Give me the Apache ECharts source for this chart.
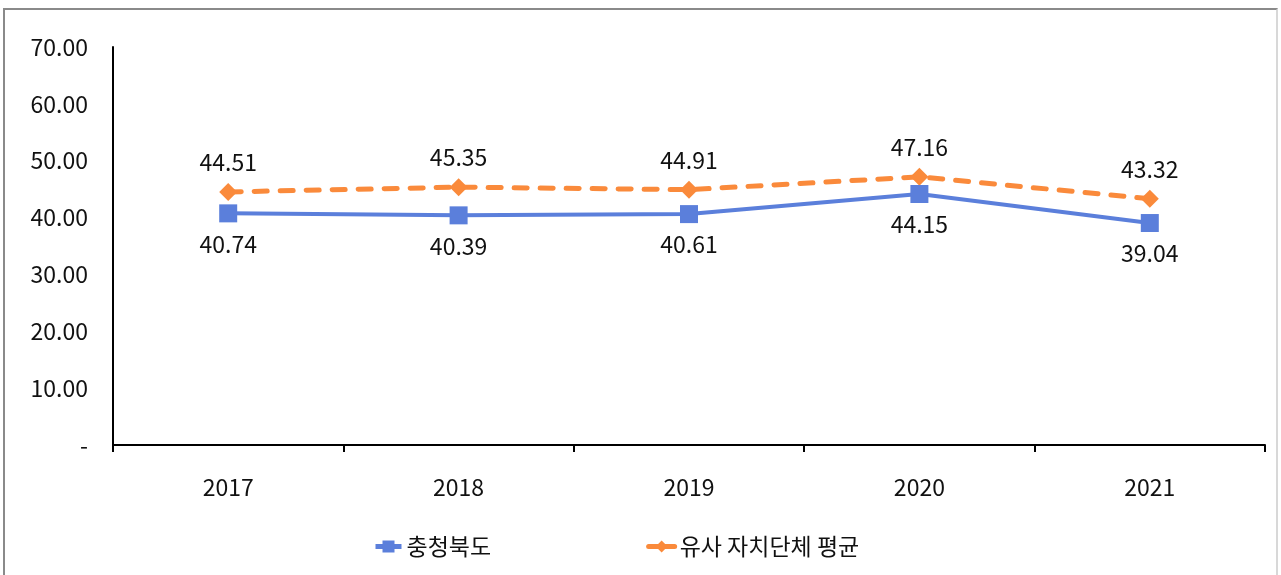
<!DOCTYPE html>
<html>
<head>
<meta charset="utf-8">
<script src="https://cdn.jsdelivr.net/npm/echarts@6/dist/echarts.min.js"></script>
<style>
	html, body { margin: 0; padding: 0; background: #fff; }
	#frame {
		position: absolute; left: 3px; top: 8px; width: 1275px; height: 567px;
		border-top: 2px solid #8a8a8a; border-left: 2px solid #8a8a8a; border-right: 2px solid #d8d8d8;
		box-sizing: border-box;
	}
	#chartDiv { position: absolute; left: 0; top: 0; width: 1281px; height: 575px; }
</style>
</head>
<body>
<div id="frame"></div>
<div id="chartDiv"></div>
<script>
var years = ['2017', '2018', '2019', '2020', '2021'];
var chungbuk = [40.74, 40.39, 40.61, 44.15, 39.04];
var similarAvg = [44.51, 45.35, 44.91, 47.16, 43.32];
var seriesNames = ['충청북도', '유사 자치단체 평균'];

var chart = echarts.init(document.getElementById('chartDiv'));
var font = '"Noto Sans CJK KR", "Noto Sans", sans-serif';

var option = {
	animation: false,
	textStyle: { fontFamily: font },
	grid: {
		left: 113,
		right: 16,
		top: 47,
		bottom: 130,
		containLabel: false
	},
	legend: {
		bottom: 12,
		left: 368,
		itemGap: 155,
		itemWidth: 26,
		itemHeight: 15,
		lineStyle: { width: 5, type: 'solid' },
		textStyle: { fontFamily: font, fontSize: 23, color: '#111' },
		data: seriesNames
	},
	xAxis: {
		type: 'category',
		data: years,
		boundaryGap: true,
		axisLine: { lineStyle: { color: '#000', width: 2 } },
		axisTick: { show: true, length: 7, lineStyle: { color: '#000', width: 2 } },
		axisLabel: { fontSize: 23, color: '#111', margin: 31, fontFamily: font }
	},
	yAxis: {
		type: 'value',
		min: 0,
		max: 70,
		interval: 10,
		splitLine: { show: false },
		axisLine: { show: true, lineStyle: { color: '#000', width: 2 } },
		axisTick: { show: false },
		axisLabel: {
			fontSize: 23,
			color: '#111',
			margin: 25,
			fontFamily: font,
			formatter: function (v) {
				return v === 0 ? '-' : v.toFixed(2);
			}
		}
	},
	series: [
		{
			name: seriesNames[0],
			type: 'line',
			data: chungbuk,
			symbol: 'rect',
			symbolSize: 18,
			lineStyle: { color: '#5b7fdb', width: 4 },
			itemStyle: { color: '#5b7fdb' },
			label: {
				show: true,
				position: 'bottom',
				distance: 10,
				fontSize: 23,
				color: '#111',
				fontFamily: font,
				formatter: function (p) { return p.value.toFixed(2); }
			},
			z: 3
		},
		{
			name: seriesNames[1],
			type: 'line',
			data: similarAvg,
			symbol: 'diamond',
			symbolSize: 18,
			lineStyle: { color: '#fa8a3b', width: 5, type: [13, 13], cap: 'round' },
			itemStyle: { color: '#fa8a3b' },
			label: {
				show: true,
				position: 'top',
				distance: 9,
				fontSize: 23,
				color: '#111',
				fontFamily: font,
				formatter: function (p) { return p.value.toFixed(2); }
			},
			z: 2
		}
	]
};

chart.setOption(option, true);
</script>
</body>
</html>
